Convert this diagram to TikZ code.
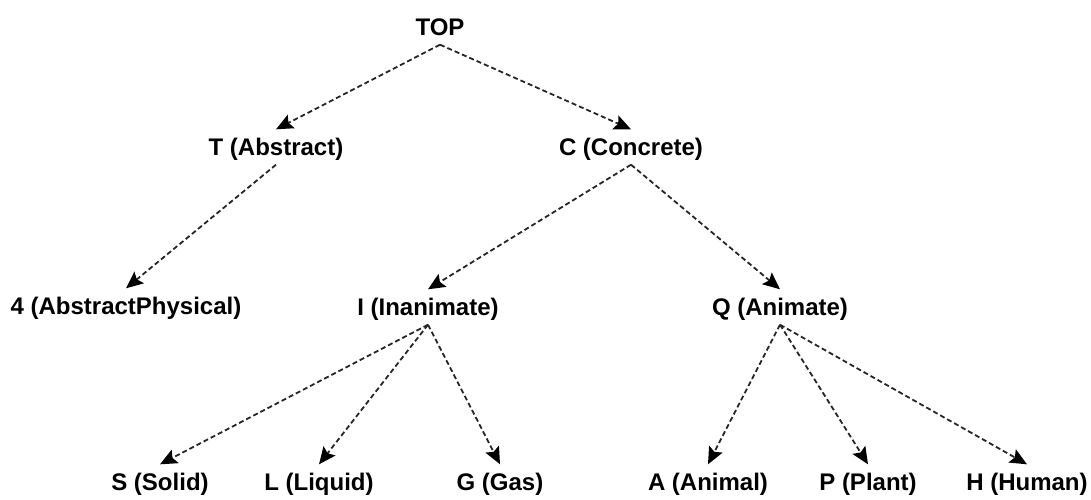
\documentclass[tikz,border=0pt]{standalone}
\usepackage{fontspec}
\setmainfont{Liberation Sans}
\usetikzlibrary{arrows.meta}
\begin{document}
\begin{tikzpicture}[x=1pt,y=-1pt,
  lbl/.style={font=\fontsize{24}{28}\selectfont\bfseries, inner xsep=0pt,
    inner ysep=9pt, text height=17pt, text depth=0pt},
  link/.style={draw=black!85, line width=1.8pt, dash pattern=on 5pt off 3pt,
    -{Stealth[length=17pt,width=15pt,inset=3pt,black]}}]
\useasboundingbox (0,0) rectangle (1091,499);
% concept hierarchy
\node[lbl] (top) at (440,27) {TOP};
\node[lbl] (t) at (276,147) {T (Abstract)};
\node[lbl] (c) at (631,147) {C (Concrete)};
\node[lbl] (ap) at (126,306) {4 (AbstractPhysical)};
\node[lbl] (i) at (428,307) {I (Inanimate)};
\node[lbl] (q) at (780,307) {Q (Animate)};
\node[lbl] (s) at (160,482) {S (Solid)};
\node[lbl] (l) at (319,482) {L (Liquid)};
\node[lbl] (g) at (500,482) {G (Gas)};
\node[lbl] (a) at (708,482) {A (Animal)};
\node[lbl] (p) at (868,482) {P (Plant)};
\node[lbl] (h) at (1027,482) {H (Human)};
% subsumption links
\draw[link] (top.south) -- (t.north);
\draw[link] (top.south) -- (c.north);
\draw[link] (t.south) -- (ap.north);
\draw[link] (c.south) -- (i.north);
\draw[link] (c.south) -- (q.north);
\draw[link] (i.south) -- (s.north);
\draw[link] (i.south) -- (l.north);
\draw[link] (i.south) -- (g.north);
\draw[link] (q.south) -- (a.north);
\draw[link] (q.south) -- (p.north);
\draw[link] (q.south) -- (h.north);
\end{tikzpicture}
\end{document}
